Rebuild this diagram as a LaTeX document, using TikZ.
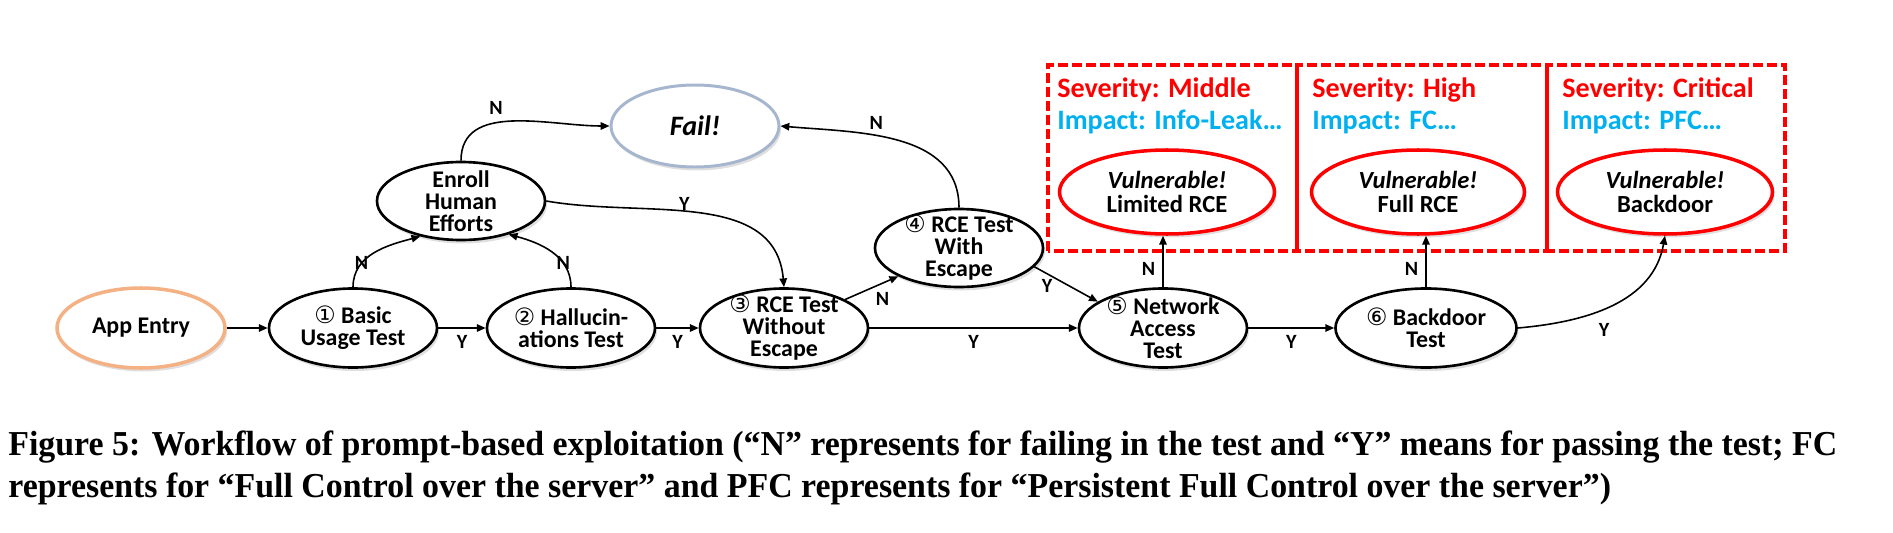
\documentclass[tikz,border=0pt]{standalone}
\usepackage{fontspec}
\setmainfont{Liberation Serif}
\newfontfamily\nodefont{Carlito}
\newfontfamily\circfont{DejaVu Sans}
\usepackage{graphicx}
\usepackage{tikz}
\usetikzlibrary{arrows.meta}
\usetikzlibrary{shapes.geometric}
\usetikzlibrary{shadows}

\definecolor{sevred}{RGB}{255,0,0}
\definecolor{impblue}{RGB}{0,176,240}
\definecolor{entryorange}{RGB}{244,177,131}
\definecolor{failgray}{RGB}{166,182,206}

\newcommand{\tnum}[1]{{\circfont\mdseries #1}}
\newcommand{\capfont}{\fontsize{19.9}{24}\selectfont\bfseries}
\newcommand{\figcapa}{Figure 5: Workflow of prompt-based exploitation (“N” represents for failing in the test and “Y” means for passing the test; FC}
\newcommand{\figcapb}{represents for “Full Control over the server” and PFC represents for “Persistent Full Control over the server”)}
\newlength{\capwd}

\tikzset{
  flow/.style={ellipse, draw, fill=white, line width=1.5pt, inner xsep=0pt, inner ysep=-6pt,
    minimum width=3.36cm, minimum height=1.58cm, align=center,
    font=\nodefont\bfseries\fontsize{13.6}{12.5}\selectfont,
    drop shadow={opacity=0.25, shadow xshift=0.04cm, shadow yshift=-0.07cm}},
  entry/.style={flow, draw=entryorange, line width=2pt, minimum height=1.6cm},
  failed/.style={flow, draw=failgray, line width=1.7pt, minimum height=1.64cm,
    font=\nodefont\bfseries\itshape\fontsize{16}{16}\selectfont},
  vuln/.style={flow, draw=sevred, line width=2pt, minimum width=4.3cm, minimum height=1.68cm,
    font=\nodefont\bfseries\fontsize{14}{13.6}\selectfont},
  lbl/.style={font=\nodefont\bfseries\fontsize{11.5}{11.5}\selectfont, inner sep=1pt},
  sev/.style={anchor=base west, inner sep=0pt, text=sevred,
    font=\nodefont\bfseries\fontsize{16}{16}\selectfont},
  imp/.style={sev, text=impblue},
  riskbox/.style={draw=sevred, line width=2.2pt, dash pattern=on 0.2cm off 0.08cm},
  link/.style={->, line width=0.9pt},
}

\begin{document}
\settowidth{\capwd}{\capfont\figcapa}
\pgfmathsetmacro{\capsx}{36.58cm/\capwd}
\begin{tikzpicture}[>={Triangle[length=5pt,width=4.2pt]}]
	\useasboundingbox (0,0) rectangle (37.86,10.64);
	
	% severity boxes
	\draw[riskbox] (20.96,5.62) rectangle (25.94,9.34);
	\draw[riskbox] (25.94,5.62) rectangle (30.94,9.34);
	\draw[riskbox] (30.94,5.62) rectangle (35.7,9.34);
	\node[sev] (sevmid) at (21.14,8.70) {Severity: Middle};
	\node[imp] (impmid) at (21.14,8.06) {Impact: Info-Leak\ldots};
	\node[sev] (sevhigh) at (26.24,8.70) {Severity: High};
	\node[imp] (imphigh) at (26.24,8.06) {Impact: FC\ldots};
	\node[sev] (sevcrit) at (31.24,8.70) {Severity: Critical};
	\node[imp] (impcrit) at (31.24,8.06) {Impact: PFC\ldots};
	
	% tests
	\node[entry] (entry) at (2.82,4.08) {App Entry};
	\node[flow] (basic) at (7.06,4.08) {\tnum{①} Basic\\Usage Test};
	\node[flow] (halluc) at (11.42,4.08) {\tnum{②} Hallucin-\\ations Test};
	\node[flow] (rcewo) at (15.68,4.08) {\tnum{③} RCE Test\\Without\\Escape};
	\node[flow] (network) at (23.26,4.08) {\tnum{⑤} Network\\Access\\Test};
	\node[flow, minimum width=3.62cm] (bdtest) at (28.52,4.08) {\tnum{⑥} Backdoor\\Test};
	\node[flow, minimum height=1.56cm] (enroll) at (9.22,6.62) {Enroll\\Human\\Efforts};
	\node[flow, minimum height=1.56cm] (rcew) at (19.18,5.68) {\tnum{④} RCE Test\\With\\Escape};
	\node[failed] (fail) at (13.9,8.12) {Fail!};
	
	% outcomes
	\node[vuln] (limited) at (23.34,6.80) {{\itshape Vulnerable!}\\Limited RCE};
	\node[vuln, minimum width=4.26cm] (fullrce) at (28.36,6.80) {{\itshape Vulnerable!}\\Full RCE};
	\node[vuln] (bdvuln) at (33.3,6.80) {{\itshape Vulnerable!}\\Backdoor};
	
	% Y: pass, N: fail
	\draw[link] (entry) -- (basic);
	\draw[link] (basic) -- node[lbl, below=3pt] {Y} (halluc);
	\draw[link] (halluc) -- node[lbl, below=3pt] {Y} (rcewo);
	\draw[link] (rcewo) -- node[lbl, below=3pt] {Y} (network);
	\draw[link] (network) -- node[lbl, below=3pt] {Y} (bdtest);
	\draw[link] (basic.north) to[out=90, in=195] node[lbl, pos=0.3] {N} (enroll.221);
	\draw[link] (halluc.north) to[out=90, in=-15] node[lbl, pos=0.3] {N} (enroll.325);
	\draw[link] (enroll.north) to[out=90, in=180] node[lbl, pos=0.4, above=3pt] {N} (fail.west);
	\draw[link] (enroll.east) to[out=-10, in=95] node[lbl, pos=0.45, above=-1pt] {Y} (rcewo.north);
	\draw[link] (rcewo.25) -- node[lbl, below right=1pt] {N} (rcew.205);
	\draw[link] (rcew.north) to[out=90, in=-5] node[lbl, pos=0.6, above=2pt] {N} (fail.east);
	\draw[link] (rcew.346) -- node[lbl, pos=0.2, below=2pt] {Y} (network.158);
	\draw[link] (network.north) -- node[lbl, pos=0.35, left=3pt] {N} (network.north |- limited.south);
	\draw[link] (bdtest.north) -- node[lbl, pos=0.35, left=3pt] {N} (bdtest.north |- fullrce.south);
	\draw[link] (bdtest.east) to[out=5, in=-100] node[lbl, pos=0.45, below=7pt] {Y} (bdvuln.south);
	
	% caption
	\node[anchor=base west, inner sep=0pt] (capa) at (0.16,1.54) {\scalebox{\capsx}[1]{\capfont\figcapa}};
	\node[anchor=base west, inner sep=0pt] (capb) at (0.16,0.70) {\scalebox{\capsx}[1]{\capfont\figcapb}};
\end{tikzpicture}
\end{document}
